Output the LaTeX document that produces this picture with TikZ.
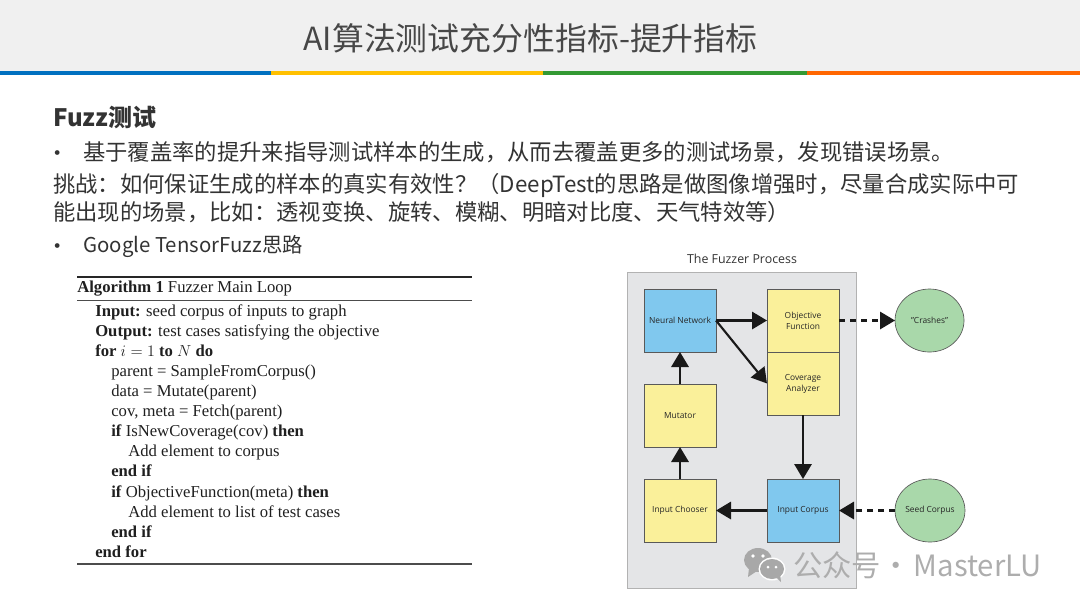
\documentclass[tikz,border=0pt]{standalone}
\usepackage{fontspec}
\setmainfont{Liberation Serif}
\setsansfont{Open Sans}
\newfontfamily\cjk{Noto Sans CJK SC}
\usepackage{xcolor}
\usetikzlibrary{arrows.meta,positioning,shapes.geometric}
\definecolor{headgray}{HTML}{F0F0F0}
\definecolor{barblue}{HTML}{0070C0}
\definecolor{baryellow}{HTML}{FFC000}
\definecolor{bargreen}{HTML}{339933}
\definecolor{barorange}{HTML}{FF6600}
\definecolor{panelgray}{HTML}{E4E5E7}
\definecolor{boxblue}{HTML}{80C8EE}
\definecolor{boxyellow}{HTML}{FAF09A}
\definecolor{boxgreen}{HTML}{A9D8AA}
\definecolor{markgray}{HTML}{A8A8A8}

\begin{document}
\begin{tikzpicture}[
            x=0.75pt, y=-0.75pt,
            node distance=24pt and 38.25pt,
            body/.style={anchor=west, inner sep=0pt, text=black!80,
            font=\cjk\fontsize{16.75}{20}\selectfont},
            algo/.style={anchor=base west, inner sep=0pt, text=black!88,
            font=\fontsize{12.5}{15}\selectfont},
            block/.style={draw=black!65, line width=0.5pt, outer sep=0pt, inner sep=0pt,
            minimum width=54pt, minimum height=47.25pt, align=center, text=black!85,
            font=\sffamily\fontsize{6.3}{8.2}\selectfont},
            nnbox/.style={block, fill=boxblue},
            toolbox/.style={block, fill=boxyellow},
            blob/.style={ellipse, draw=black!65, line width=0.5pt, fill=boxgreen, outer sep=0pt,
            inner sep=0pt, minimum width=51.75pt, minimum height=47.25pt, text=black!85,
            font=\sffamily\fontsize{6.3}{8.2}\selectfont},
            edge/.style={-{Triangle[length=11.25pt,width=13pt]}, line width=1.6pt, black!90},
            dashedge/.style={edge, dash pattern=on 4.5pt off 3.75pt}
        ]
\useasboundingbox (0,0) rectangle (1080,608);
% header band
            \fill[headgray] (0,0) rectangle (1080,71);
            \fill[barblue] (0,71) rectangle (271,75);
            \fill[baryellow] (271,71) rectangle (543,75);
            \fill[bargreen] (543,71) rectangle (807,75);
            \fill[barorange] (807,71) rectangle (1080,75);
            \node[inner sep=0pt, text=black!72, font=\cjk\fontsize{23.9}{28}\selectfont] (title) at (530.5,38) {AI算法测试充分性指标-提升指标};
% slide text
            \node[body, font=\cjk\bfseries\fontsize{18}{22}\selectfont] (fuzz) at (53,117) {Fuzz测试};
            \node[body] (dot1) at (46,156) {•};
            \node[body] (line1) at (83,152) {基于覆盖率的提升来指导测试样本的生成，从而去覆盖更多的测试场景，发现错误场景。};
            \node[body] (line2) at (53,185) {挑战：如何保证生成的样本的真实有效性？（DeepTest的思路是做图像增强时，尽量合成实际中可};
            \node[body] (line3) at (53,212) {能出现的场景，比如：透视变换、旋转、模糊、明暗对比度、天气特效等）};
            \node[body] (dot2) at (46,249) {•};
            \node[body, font=\cjk\fontsize{15.3}{18}\selectfont] (line4) at (83,246) {Google TensorFuzz思路};
% algorithm box
            \draw[black!85, line width=0.8pt] (77,277) -- (472,277);
            \draw[black!70, line width=0.5pt] (77,300) -- (472,300);
            \draw[black!70, line width=0.8pt] (77,564) -- (472,564);
            \node[algo] (a0) at (77,292.7) {\textbf{Algorithm 1} Fuzzer Main Loop};
            \node[algo] (a1) at (95,316) {\textbf{Input:} seed corpus of inputs to graph};
            \node[algo] (a2) at (95,336.3) {\textbf{Output:} test cases satisfying the objective};
            \node[algo] (a3) at (95,356) {\textbf{for} $i=1$ \textbf{to} $N$ \textbf{do}};
            \node[algo] (a4) at (111,376) {parent = SampleFromCorpus()};
            \node[algo] (a5) at (111,396) {data = Mutate(parent)};
            \node[algo] (a6) at (111,416.7) {cov, meta = Fetch(parent)};
            \node[algo] (a7) at (111,436.7) {\textbf{if} IsNewCoverage(cov) \textbf{then}};
            \node[algo] (a8) at (128,456.7) {Add element to corpus};
            \node[algo] (a9) at (111,476.7) {\textbf{end if}};
            \node[algo] (a10) at (111,497) {\textbf{if} ObjectiveFunction(meta) \textbf{then}};
            \node[algo] (a11) at (128,517) {Add element to list of test cases};
            \node[algo] (a12) at (111,537) {\textbf{end if}};
            \node[algo] (a13) at (95,557) {\textbf{end for}};
% fuzzer process panel
            \node[draw=black!30, line width=0.7pt, fill=panelgray, minimum width=171.75pt, minimum height=237pt, outer sep=0pt] (panel) at (741.5,430) {};
            \node[inner sep=0pt, text=black!80, font=\sffamily\fontsize{9.3}{11}\selectfont] (ptitle) at (742,259) {The Fuzzer Process};
% left column
            \node[nnbox]                                (nn)   at (680,320.5) {Neural Network};
            \node[toolbox, below=of nn]                 (mut)  {Mutator};
            \node[toolbox, below=of mut]                (ch)   {Input Chooser};
% right column
            \node[toolbox, right=of nn]                 (obj)  {Objective\\Function};
            \node[toolbox, below=0pt of obj]            (cov)  {Coverage\\Analyzer};
            \node[nnbox, right=of ch]                   (cor)  {Input Corpus};
% outside the panel
            \node[blob, right=42pt of obj]              (cr)   {"Crashes"};
            \node[blob, right=42pt of cor]              (sd)   {Seed Corpus};
% solid flow
            \draw[edge] (nn) -- (obj);
            \draw[edge] (nn.east) -- (cov.west);
            \draw[edge] (cov) -- (cor);
            \draw[edge] (cor) -- (ch);
            \draw[edge] (ch) -- (mut);
            \draw[edge] (mut) -- (nn);
% dashed flow
            \draw[dashedge] (obj) -- (cr);
            \draw[dashedge] (sd) -- (cor);
% watermark
            \fill[markgray] (758,560) ellipse [x radius=14, y radius=12];
            \fill[markgray] (749,568) -- (748,577) -- (757,571) -- cycle;
            \fill[white] (772,569) ellipse [x radius=13.5, y radius=11.5];
            \fill[markgray] (772,569) ellipse [x radius=12, y radius=10];
            \fill[markgray] (776,577) -- (781,582) -- (780,573) -- cycle;
            \fill[white] (753,556) circle (1.8) (763,556) circle (1.8) (768,567) circle (1.5) (776,567) circle (1.5);
            \node[anchor=west, inner sep=0pt, text=black!32, font=\cjk\fontsize{22}{26}\selectfont] (mark) at (793,565) {公众号\hspace{-4.5pt} · \hspace{-3pt}MasterLU};
        \end{tikzpicture}
\end{document}
